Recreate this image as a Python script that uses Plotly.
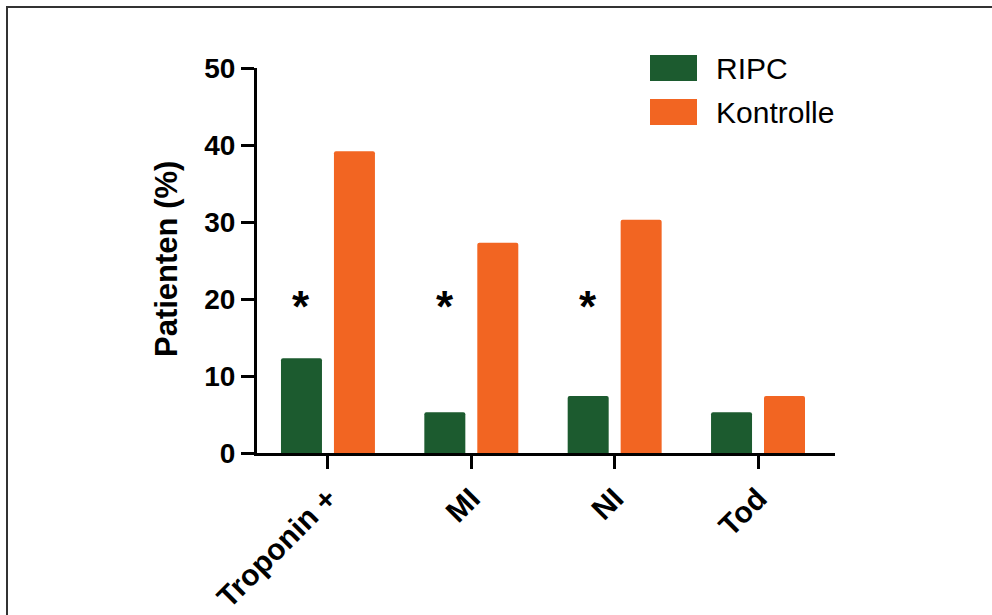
import plotly.graph_objects as go

categories = ["Troponin +", "MI", "NI", "Tod"]
ripc = [12.3, 5.3, 7.4, 5.3]
kontrolle = [39.2, 27.3, 30.3, 7.4]
significant = [True, True, True, False]
sig_level = 19.0
series_names = ["RIPC", "Kontrolle"]
colors = ["#1c5b2f", "#f26522"]
y_ticks = [0, 10, 20, 30, 40, 50]

W, H = 992, 615
L, R, T, B = 257, 157, 68, 162
PW, PH = W - L - R, H - T - B
x_range = [-0.495, 3.537]
bargap, bargroupgap = 0.261, 0.226

def px2x(p):
    return (p - L) / PW

def py2y(p):
    return (H - B - p) / PH

FONT = "Liberation Sans, Arial, Helvetica, sans-serif"

fig = go.Figure()
for name, vals, col in zip(series_names, [ripc, kontrolle], colors):
    fig.add_trace(go.Bar(x=categories, y=vals, name=name,
                         marker=dict(color=col, line=dict(width=0), cornerradius=2), showlegend=False))

px_per_cat = PW / (x_range[1] - x_range[0])
green_offset = -(1 - bargap) / 4 * px_per_cat

annotations = []
for c, s in zip(categories, significant):
    if s:
        annotations.append(dict(x=c, y=sig_level, xref="x", yref="y", text="<b>*</b>", showarrow=False,
                                xshift=green_offset, font=dict(size=44, color="black", family=FONT),
                                xanchor="center", yanchor="middle"))

# y-axis title
annotations.append(dict(x=px2x(166), y=py2y(259), xref="paper", yref="paper", text="<b>Patienten (%)</b>",
                        textangle=-90, showarrow=False, xanchor="center", yanchor="middle",
                        font=dict(size=31, color="black", family=FONT)))

# custom legend
shapes = []
leg_rows = [(55, 81), (99, 125)]
for (y0, y1), name, col in zip(leg_rows, series_names, colors):
    shapes.append(dict(type="rect", xref="paper", yref="paper", x0=px2x(650), x1=px2x(697),
                       y0=py2y(y1), y1=py2y(y0), fillcolor=col, line=dict(width=0)))
    annotations.append(dict(x=px2x(714), y=py2y((y0 + y1) / 2), xref="paper", yref="paper", text=name,
                            showarrow=False, xanchor="left", yanchor="middle",
                            font=dict(size=30, color="black", family=FONT)))

# figure border (top and left edges visible)
shapes.append(dict(type="line", xref="paper", yref="paper", x0=px2x(6), x1=px2x(995), y0=py2y(7), y1=py2y(7),
                   line=dict(color="#333333", width=2)))
shapes.append(dict(type="line", xref="paper", yref="paper", x0=px2x(7), x1=px2x(7), y0=py2y(6), y1=py2y(620),
                   line=dict(color="#333333", width=2)))

fig.update_layout(
    width=W, height=H,
    margin=dict(l=L, r=R, t=T, b=B, autoexpand=False),
    paper_bgcolor="white", plot_bgcolor="white",
    barmode="group", bargap=bargap, bargroupgap=bargroupgap,
    font=dict(family=FONT, color="black"),
    annotations=annotations, shapes=shapes,
    showlegend=False,
    xaxis=dict(range=x_range, showline=True, linecolor="black", linewidth=3, ticks="outside", ticklen=13,
               tickwidth=3, tickcolor="black", tickangle=-45, showgrid=False, zeroline=False,
               tickfont=dict(size=30, family=FONT, color="black", weight="bold")),
    yaxis=dict(range=[0, 50], tickvals=y_ticks, showline=True, linecolor="black", linewidth=3, ticks="outside",
               ticklen=13, tickwidth=3, tickcolor="black", showgrid=False, zeroline=False,
               tickfont=dict(size=28, family=FONT, color="black", weight="bold")),
)

fig.write_html("out.html")
